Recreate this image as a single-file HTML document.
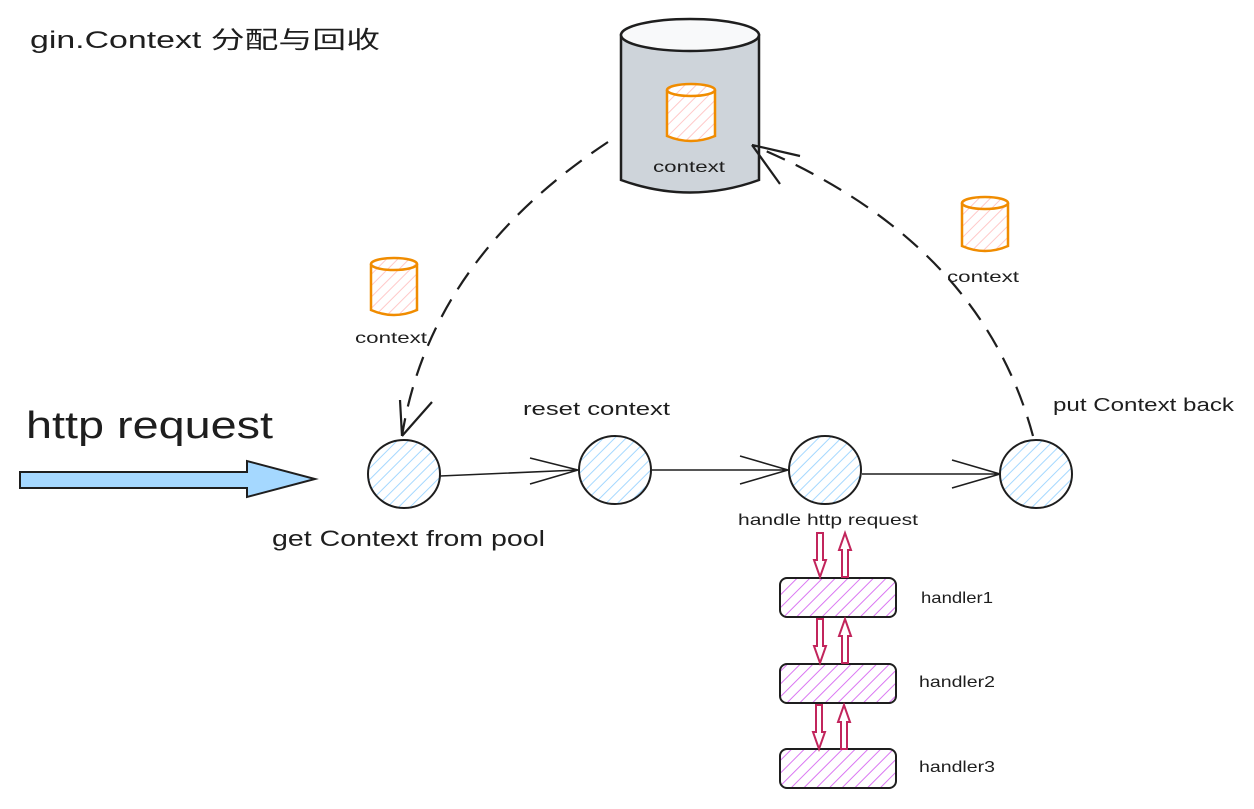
<!DOCTYPE html>
<html><head><meta charset="utf-8"><style>
html,body{margin:0;padding:0;background:#fff;}
svg{display:block;}
text{font-family:"Liberation Sans","Noto Sans CJK SC",sans-serif;fill:#1e1e1e;}
</style></head><body>
<svg width="1254" height="809" viewBox="0 0 1254 809" xmlns="http://www.w3.org/2000/svg">
<defs>
<pattern id="hb" width="8" height="8" patternUnits="userSpaceOnUse" patternTransform="rotate(45)"><rect width="8" height="8" fill="#fff"/><line x1="0" y1="0" x2="0" y2="8" stroke="#a5d8ff" stroke-width="2"/></pattern>
<pattern id="hp" width="9" height="9" patternUnits="userSpaceOnUse" patternTransform="rotate(45)"><rect width="9" height="9" fill="#fff"/><line x1="0" y1="0" x2="0" y2="9" stroke="#da77f2" stroke-width="2"/></pattern>
<pattern id="hr" width="8" height="8" patternUnits="userSpaceOnUse" patternTransform="rotate(45)"><rect width="8" height="8" fill="#fff"/><line x1="0" y1="0" x2="0" y2="8" stroke="#ffc9c9" stroke-width="2"/></pattern>
</defs>

<text x="30" y="48" font-size="24" textLength="350" lengthAdjust="spacingAndGlyphs">gin.Context 分配与回收</text>

<path d="M621,35 L621,180 Q690,205 759,180 L759,35 Z" fill="#ced4da" stroke="#1e1e1e" stroke-width="2.5"/>
<ellipse cx="690" cy="35" rx="69" ry="16" fill="#f8f9fa" stroke="#1e1e1e" stroke-width="2.5"/>

<g fill="url(#hr)" stroke="#f08c00" stroke-width="2.5">
<path d="M667,90 L667,136 Q691,146 715,136 L715,90"/>
<ellipse cx="691" cy="90" rx="24" ry="6"/>
<path d="M371,264 L371,310 Q394,320 417,310 L417,264"/>
<ellipse cx="394" cy="264" rx="23" ry="6"/>
<path d="M962,203 L962,246 Q985,256 1008,246 L1008,203"/>
<ellipse cx="985" cy="203" rx="23" ry="6"/>
</g>
<text x="653" y="172" font-size="16" textLength="72" lengthAdjust="spacingAndGlyphs">context</text>
<text x="355" y="343" font-size="16" textLength="72" lengthAdjust="spacingAndGlyphs">context</text>
<text x="947" y="282" font-size="16" textLength="72" lengthAdjust="spacingAndGlyphs">context</text>

<g fill="none" stroke="#1e1e1e" stroke-width="2.2">
<path d="M608,142 Q430,260 402,436" stroke-dasharray="20 12"/>
<path d="M402,436 L400,400 M402,436 L432,402"/>
<path d="M1033,436 Q980,240 752,145" stroke-dasharray="20 12"/>
<path d="M752,145 L800,156 M752,145 L780,184"/>
</g>

<path d="M20,472 L247,472 L247,461 L315,479 L247,497 L247,488 L20,488 Z" fill="#a5d8ff" stroke="#1e1e1e" stroke-width="2"/>
<text x="26" y="438" font-size="38" textLength="247" lengthAdjust="spacingAndGlyphs">http request</text>

<g fill="url(#hb)" stroke="#1e1e1e" stroke-width="2">
<ellipse cx="404" cy="474" rx="36" ry="34"/>
<ellipse cx="615" cy="470" rx="36" ry="34"/>
<ellipse cx="825" cy="470" rx="36" ry="34"/>
<ellipse cx="1036" cy="474" rx="36" ry="34"/>
</g>
<g fill="none" stroke="#1e1e1e" stroke-width="1.6">
<path d="M440,476 L578,470 M578,470 L530,458 M578,470 L530,484"/>
<path d="M652,470 L788,470 M788,470 L740,456 M788,470 L740,484"/>
<path d="M862,474 L1000,474 M1000,474 L952,460 M1000,474 L952,488"/>
</g>
<text x="523" y="415" font-size="18" textLength="147" lengthAdjust="spacingAndGlyphs">reset context</text>
<text x="1053" y="411" font-size="18" textLength="181" lengthAdjust="spacingAndGlyphs">put Context back</text>
<text x="272" y="546" font-size="22" textLength="273" lengthAdjust="spacingAndGlyphs">get Context from pool</text>
<text x="738" y="525" font-size="16" textLength="180" lengthAdjust="spacingAndGlyphs">handle http request</text>

<g fill="url(#hp)" stroke="#1e1e1e" stroke-width="2">
<rect x="780" y="578" width="116" height="39" rx="7"/>
<rect x="780" y="664" width="116" height="39" rx="7"/>
<rect x="780" y="749" width="116" height="39" rx="7"/>
</g>
<text x="921" y="603" font-size="16" textLength="72" lengthAdjust="spacingAndGlyphs">handler1</text>
<text x="919" y="687" font-size="16" textLength="76" lengthAdjust="spacingAndGlyphs">handler2</text>
<text x="919" y="772" font-size="16" textLength="76" lengthAdjust="spacingAndGlyphs">handler3</text>

<g fill="#fff" stroke="#c2255c" stroke-width="2">
<path d="M817,533 L823,533 L823,560 L826,560 L820,577 L814,560 L817,560 Z"/>
<path d="M842,577 L848,577 L848,550 L851,550 L845,533 L839,550 L842,550 Z"/>
<path d="M817,619 L823,619 L823,646 L826,646 L820,663 L814,646 L817,646 Z"/>
<path d="M842,663 L848,663 L848,636 L851,636 L845,619 L839,636 L842,636 Z"/>
<path d="M816,705 L822,705 L822,732 L825,732 L819,749 L813,732 L816,732 Z"/>
<path d="M841,749 L847,749 L847,722 L850,722 L844,705 L838,722 L841,722 Z"/>
</g>
</svg>
</body></html>
